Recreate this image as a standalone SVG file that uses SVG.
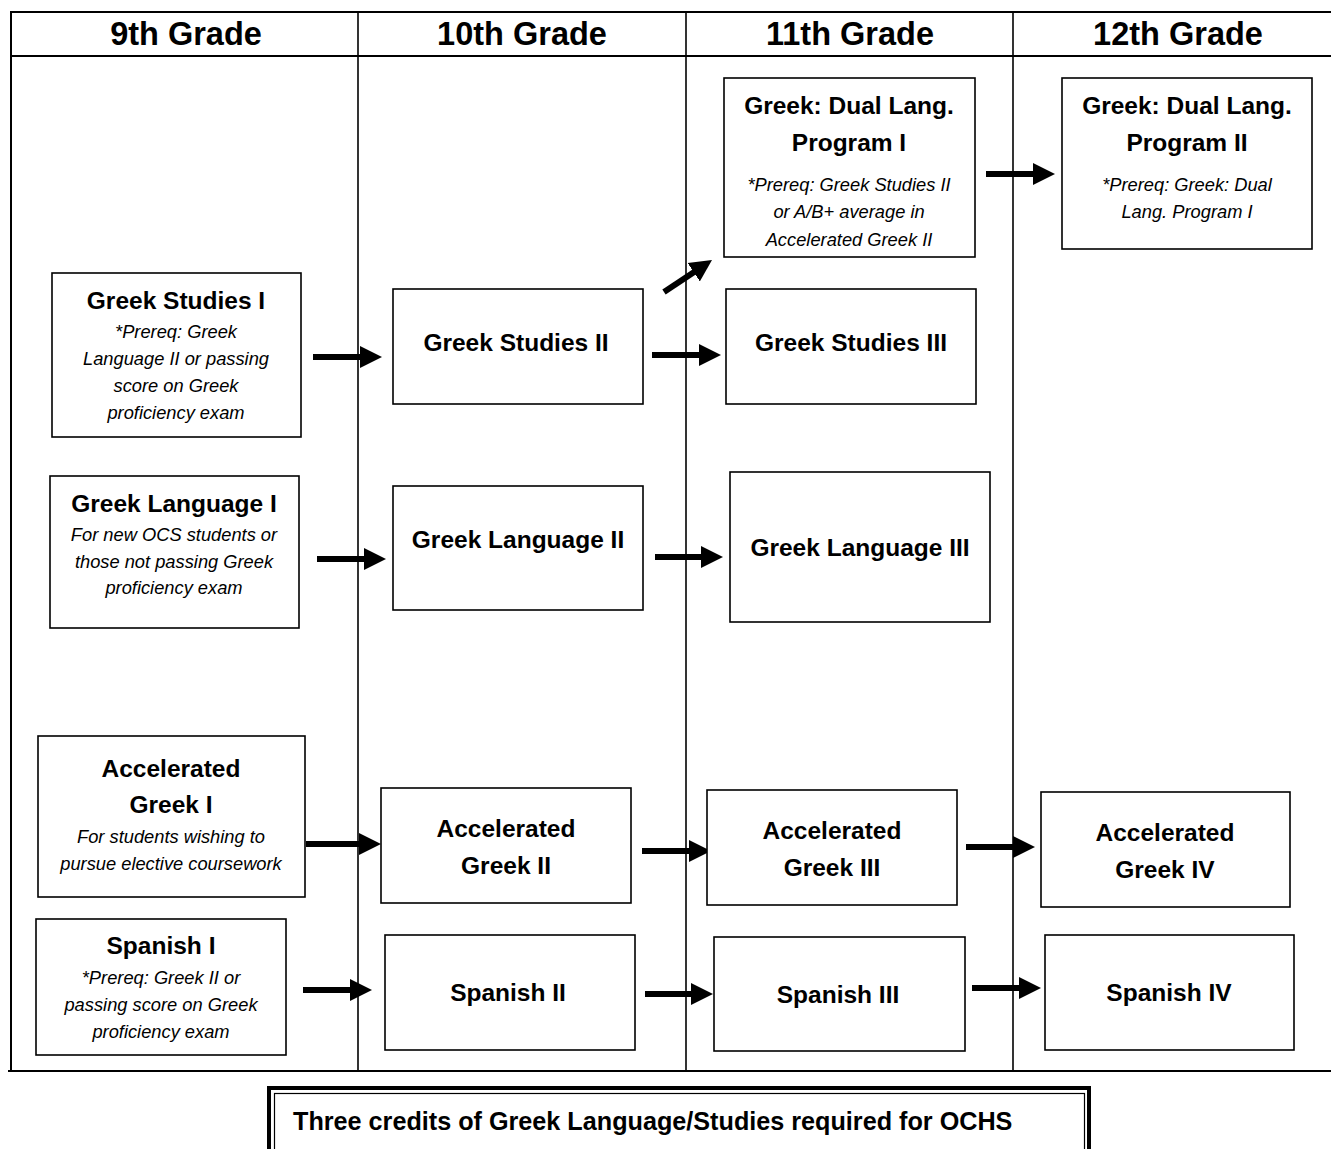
<svg xmlns="http://www.w3.org/2000/svg" width="1331" height="1149" viewBox="0 0 1331 1149">
<style>
.bg{fill:#fff}
.grid{stroke:#000;stroke-width:2;fill:none}
.box{fill:#fff;stroke:#000;stroke-width:1.6}
.hdr{font-family:"Liberation Sans",Arial,sans-serif;font-weight:bold;font-size:32.5px;fill:#000;text-anchor:middle}
.t{font-family:"Liberation Sans",Arial,sans-serif;font-weight:bold;font-size:24.5px;fill:#000;text-anchor:middle}
.i{font-family:"Liberation Sans",Arial,sans-serif;font-style:italic;font-size:18.3px;fill:#000;text-anchor:middle}
.arr{stroke:#000;stroke-width:6;fill:none;marker-end:url(#ah)}
.note{font-family:"Liberation Sans",Arial,sans-serif;font-weight:bold;font-size:25.2px;fill:#000}
</style>
<defs>
<marker id="ah" markerUnits="userSpaceOnUse" markerWidth="24" markerHeight="24" refX="6" refY="12" orient="auto">
<polygon points="0,1 22,12 0,23" fill="#000"/>
</marker>
</defs>
<rect class="bg" x="0" y="0" width="1331" height="1149"/>
<g id="table">
<line class="grid" x1="11" y1="12" x2="1331" y2="12"/>
<line class="grid" x1="11" y1="56" x2="1331" y2="56"/>
<line class="grid" x1="8" y1="1071" x2="1331" y2="1071"/>
<line class="grid" x1="11" y1="11" x2="11" y2="1072"/>
<line class="grid" x1="358" y1="12" x2="358" y2="1071" style="stroke-width:1.6"/>
<line class="grid" x1="686" y1="12" x2="686" y2="1071" style="stroke-width:1.6"/>
<line class="grid" x1="1013" y1="12" x2="1013" y2="1071" style="stroke-width:1.6"/>
<text class="hdr" x="186" y="45">9th Grade</text>
<text class="hdr" x="522" y="45">10th Grade</text>
<text class="hdr" x="850" y="45">11th Grade</text>
<text class="hdr" x="1178" y="45">12th Grade</text>
</g>
<g id="connectors">
<line class="arr" x1="313" y1="357" x2="366" y2="357"/>
<line class="arr" x1="317" y1="559" x2="370" y2="559"/>
<line class="arr" x1="306" y1="844" x2="365" y2="844"/>
<line class="arr" x1="303" y1="990" x2="356" y2="990"/>
<line class="arr" x1="652" y1="355" x2="705" y2="355"/>
<line class="arr" x1="664" y1="292" x2="698.7" y2="268.9"/>
<line class="arr" x1="655" y1="557" x2="707" y2="557"/>
<line class="arr" x1="642" y1="851" x2="695" y2="851"/>
<line class="arr" x1="645" y1="994" x2="697" y2="994"/>
<line class="arr" x1="986" y1="174" x2="1039" y2="174"/>
<line class="arr" x1="966" y1="847" x2="1019" y2="847"/>
<line class="arr" x1="972" y1="988" x2="1025" y2="988"/>
</g>
<g id="greek-studies-1">
<rect class="box" x="52" y="273" width="249" height="164"/>
<text class="t" x="176" y="309">Greek Studies I</text>
<text class="i" x="176" y="338">*Prereq: Greek</text>
<text class="i" x="176" y="365">Language II or passing</text>
<text class="i" x="176" y="392">score on Greek</text>
<text class="i" x="176" y="419">proficiency exam</text>
</g>
<g id="greek-language-1">
<rect class="box" x="50" y="476" width="249" height="152"/>
<text class="t" x="174" y="512">Greek Language I</text>
<text class="i" x="174" y="541">For new OCS students or</text>
<text class="i" x="174" y="568">those not passing Greek</text>
<text class="i" x="174" y="594">proficiency exam</text>
</g>
<g id="accelerated-greek-1">
<rect class="box" x="38" y="736" width="267" height="161"/>
<text class="t" x="171" y="777">Accelerated</text>
<text class="t" x="171" y="813">Greek I</text>
<text class="i" x="171" y="843">For students wishing to</text>
<text class="i" x="171" y="870">pursue elective coursework</text>
</g>
<g id="spanish-1">
<rect class="box" x="36" y="919" width="250" height="136"/>
<text class="t" x="161" y="954">Spanish I</text>
<text class="i" x="161" y="984">*Prereq: Greek II or</text>
<text class="i" x="161" y="1011">passing score on Greek</text>
<text class="i" x="161" y="1038">proficiency exam</text>
</g>
<g id="greek-studies-2">
<rect class="box" x="393" y="289" width="250" height="115"/>
<text class="t" x="516" y="351">Greek Studies II</text>
</g>
<g id="greek-language-2">
<rect class="box" x="393" y="486" width="250" height="124"/>
<text class="t" x="518" y="548">Greek Language II</text>
</g>
<g id="accelerated-greek-2">
<rect class="box" x="381" y="788" width="250" height="115"/>
<text class="t" x="506" y="837">Accelerated</text>
<text class="t" x="506" y="874">Greek II</text>
</g>
<g id="spanish-2">
<rect class="box" x="385" y="935" width="250" height="115"/>
<text class="t" x="508" y="1001">Spanish II</text>
</g>
<g id="dual-lang-1">
<rect class="box" x="724" y="78" width="251" height="179"/>
<text class="t" x="849" y="114">Greek: Dual Lang.</text>
<text class="t" x="849" y="151">Program I</text>
<text class="i" x="849" y="191">*Prereq: Greek Studies II</text>
<text class="i" x="849" y="218">or A/B+ average in</text>
<text class="i" x="849" y="246">Accelerated Greek II</text>
</g>
<g id="greek-studies-3">
<rect class="box" x="726" y="289" width="250" height="115"/>
<text class="t" x="851" y="351">Greek Studies III</text>
</g>
<g id="greek-language-3">
<rect class="box" x="730" y="472" width="260" height="150"/>
<text class="t" x="860" y="556">Greek Language III</text>
</g>
<g id="accelerated-greek-3">
<rect class="box" x="707" y="790" width="250" height="115"/>
<text class="t" x="832" y="839">Accelerated</text>
<text class="t" x="832" y="876">Greek III</text>
</g>
<g id="spanish-3">
<rect class="box" x="714" y="937" width="251" height="114"/>
<text class="t" x="838" y="1003">Spanish III</text>
</g>
<g id="dual-lang-2">
<rect class="box" x="1062" y="78" width="250" height="171"/>
<text class="t" x="1187" y="114">Greek: Dual Lang.</text>
<text class="t" x="1187" y="151">Program II</text>
<text class="i" x="1187" y="191">*Prereq: Greek: Dual</text>
<text class="i" x="1187" y="218">Lang. Program I</text>
</g>
<g id="accelerated-greek-4">
<rect class="box" x="1041" y="792" width="249" height="115"/>
<text class="t" x="1165" y="841">Accelerated</text>
<text class="t" x="1165" y="878">Greek IV</text>
</g>
<g id="spanish-4">
<rect class="box" x="1045" y="935" width="249" height="115"/>
<text class="t" x="1169" y="1001">Spanish IV</text>
</g>
<g id="note">
<rect x="269" y="1088" width="820" height="80" fill="#fff" stroke="#000" stroke-width="4"/>
<rect x="274.5" y="1093.5" width="810" height="70" fill="none" stroke="#000" stroke-width="1.2"/>
<text class="note" x="293" y="1130">Three credits of Greek Language/Studies required for OCHS</text>
</g>
</svg>
